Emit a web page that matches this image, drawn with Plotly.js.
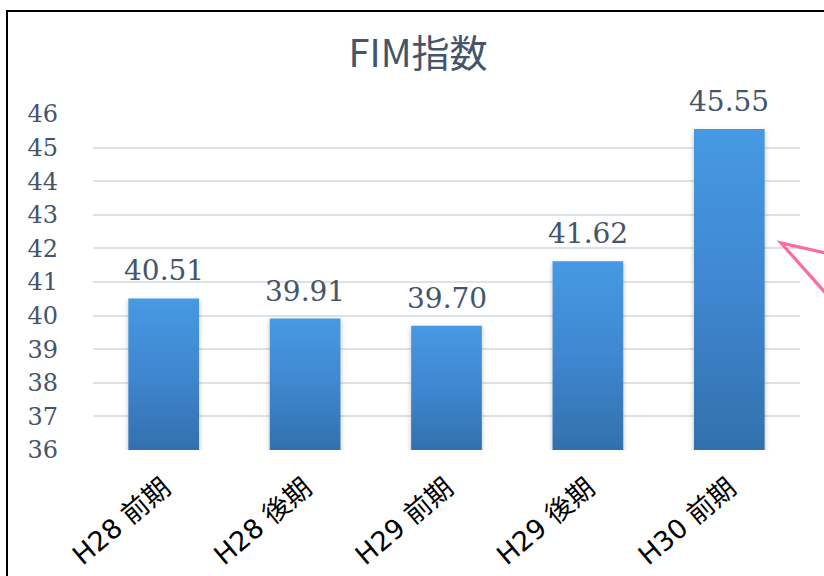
<!DOCTYPE html>
<html>
<head>
<meta charset="utf-8">
<script src="https://cdn.plot.ly/plotly-3.0.1.min.js"></script>
<style>
  html, body { margin: 0; padding: 0; background: #ffffff; }
  #wrap { position: relative; width: 824px; height: 576px; overflow: hidden; }
  #chart { position: absolute; left: 0; top: 0; width: 824px; height: 576px; }
  #frame { position: absolute; left: 6px; top: 10px; width: 900px; height: 700px;
           border-left: 2.5px solid #000; border-top: 2.5px solid #000; pointer-events: none; }
  #arrow { position: absolute; left: 0; top: 0; pointer-events: none; }
</style>
</head>
<body>
<div id="wrap">
  <div id="chart"></div>
  <div id="frame"></div>
  <svg id="arrow" width="824" height="576">
    <polyline points="830,254 781,243 830,298" fill="none" stroke="#ff6b9e" stroke-width="3.2" stroke-linejoin="miter"/>
  </svg>
</div>
<script>
const categories = ["H28 前期", "H28 後期", "H29 前期", "H29 後期", "H30 前期"];
const values = [40.51, 39.91, 39.70, 41.62, 45.55];
const valueLabels = ["40.51", "39.91", "39.70", "41.62", "45.55"];
const yTicks = [36, 37, 38, 39, 40, 41, 42, 43, 44, 45, 46];

const slate = "#44546a";

const trace = {
  type: "bar",
  x: categories,
  y: values,
  marker: { color: "#3f86cf", line: { width: 0 } },
  hoverinfo: "skip"
};

const annotations = categories.map((c, i) => ({
  x: c, y: values[i], xref: "x", yref: "y",
  text: valueLabels[i], showarrow: false,
  yanchor: "bottom", yshift: 9,
  font: { family: "DejaVu Serif, serif", size: 28, color: slate }
}));

const layout = {
  width: 824, height: 576,
  margin: { l: 93, r: 24, t: 114, b: 126 },
  paper_bgcolor: "#ffffff", plot_bgcolor: "#ffffff",
  title: {
    text: "FIM指数",
    x: 418/824, xref: "container", xanchor: "center",
    y: 1 - 54/576, yref: "container", yanchor: "middle",
    font: { family: "Noto Sans CJK JP, sans-serif", size: 38, color: slate }
  },
  bargap: 0.5,
  showlegend: false,
  xaxis: {
    type: "category",
    tickangle: -40,
    tickfont: { family: "DejaVu Sans, Noto Sans CJK JP, sans-serif", size: 27, color: "#000000" },
    showgrid: false, zeroline: false, showline: false, ticks: "",
    ticklabelstandoff: 16
  },
  yaxis: {
    range: [36, 46],
    tickvals: yTicks,
    ticktext: yTicks.map(String),
    tickfont: { family: "DejaVu Serif, serif", size: 24, color: slate },
    showgrid: true, gridcolor: "#dde1e8", gridwidth: 2,
    zeroline: false, showline: false, ticks: "",
    ticklabelstandoff: 34
  },
  annotations: annotations
};

Plotly.newPlot("chart", [trace], layout, { displayModeBar: false, staticPlot: true }).then(gd => {
  const svg = gd.querySelector("svg.main-svg");
  const ns = "http://www.w3.org/2000/svg";
  let defs = svg.querySelector("defs");
  if (!defs) { defs = document.createElementNS(ns, "defs"); svg.insertBefore(defs, svg.firstChild); }
  const plotBottom = gd._fullLayout._size.h;
  const filt = document.createElementNS(ns, "filter");
  filt.setAttribute("id", "barShadow");
  filt.setAttribute("x", "-20%"); filt.setAttribute("y", "-10%");
  filt.setAttribute("width", "140%"); filt.setAttribute("height", "130%");
  const ds = document.createElementNS(ns, "feDropShadow");
  ds.setAttribute("dx", "0"); ds.setAttribute("dy", "2");
  ds.setAttribute("stdDeviation", "2.5");
  ds.setAttribute("flood-color", "#000"); ds.setAttribute("flood-opacity", "0.25");
  filt.appendChild(ds);
  defs.appendChild(filt);
  gd.querySelectorAll(".bars .point path").forEach((p, i) => {
    const bb = p.getBBox();
    const g = document.createElementNS(ns, "linearGradient");
    const id = "barGrad" + i;
    g.setAttribute("id", id);
    g.setAttribute("gradientUnits", "userSpaceOnUse");
    g.setAttribute("x1", "0"); g.setAttribute("x2", "0");
    g.setAttribute("y1", String(bb.y));
    g.setAttribute("y2", String(plotBottom));
    [["0", "#4699e3"], ["0.5", "#3f87d0"], ["1", "#3270ad"]].forEach(([o, c]) => {
      const s = document.createElementNS(ns, "stop");
      s.setAttribute("offset", o); s.setAttribute("stop-color", c);
      g.appendChild(s);
    });
    defs.appendChild(g);
    p.style.fill = "url(#" + id + ")";
    p.setAttribute("filter", "url(#barShadow)");
  });
});
</script>
</body>
</html>
